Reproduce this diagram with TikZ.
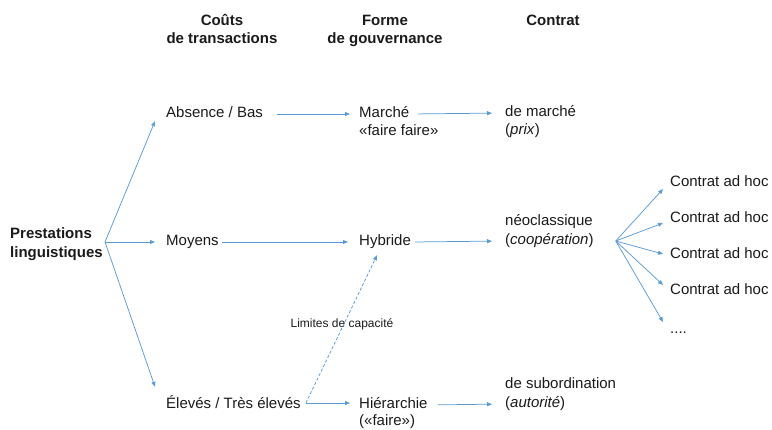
\documentclass[tikz,border=0pt]{standalone}
\usepackage{fontspec}
\setmainfont{Liberation Sans}
\usetikzlibrary{arrows.meta}
\definecolor{lnblue}{HTML}{5B9BD5}
\definecolor{txtc}{HTML}{1A1A1A}
\begin{document}
\begin{tikzpicture}[x=1pt,y=-1pt,
  txt/.style={inner sep=0pt, anchor=base west, font=\fontsize{15}{18}\selectfont, text=txtc, text height=10pt, text depth=4pt},
  boldtxt/.style={txt, font=\fontsize{15}{18}\selectfont\bfseries},
  hdr/.style={inner sep=0pt, anchor=base, font=\fontsize{15}{18}\selectfont\bfseries, text=txtc},
  small/.style={inner sep=0pt, anchor=base, font=\fontsize{12}{14}\selectfont, text=txtc},
  arr/.style={draw=lnblue, line width=0.75pt, -{Triangle[length=5pt,width=4pt]}}
]
\useasboundingbox (0,0) rectangle (772,429);

% headers
\node[hdr] (h1a) at (222,25) {Coûts};
\node[hdr] (h1b) at (222,43) {de transactions};
\node[hdr] (h2a) at (385,25) {Forme};
\node[hdr] (h2b) at (385,43) {de gouvernance};
\node[hdr] (h3) at (553,25) {Contrat};

% left
\node[boldtxt] (prest1) at (10,238) {Prestations};
\node[boldtxt] (prest2) at (10,257) {linguistiques};
\coordinate (pf) at (105,242);

% column 1
\node[txt] (abs) at (166,117) {Absence / Bas};
\node[txt] (moy) at (166,245) {Moyens};
\node[txt] (elv) at (166,408) {Élevés / Très élevés};

% column 2
\node[txt] (mar) at (359,117) {Marché};
\node[txt] (mar2) at (359,135) {«faire faire»};
\node[txt] (hyb) at (359,245) {Hybride};
\node[txt] (hie) at (359,408) {Hiérarchie};
\node[txt] (hie2) at (359,425) {(«faire»)};

% column 3
\node[txt] (dm) at (505,116) {de marché};
\node[txt] (dm2) at (505,134) {(\textit{prix})};
\node[txt] (neo) at (505,225) {néoclassique};
\node[txt] (neo2) at (505,244) {(\textit{coopération})};
\node[txt] (sub) at (505,388) {de subordination};
\node[txt] (sub2) at (505,407) {(\textit{autorité})};

% column 4
\node[txt] (ad1) at (670,186) {Contrat ad hoc};
\node[txt] (ad2) at (670,222) {Contrat ad hoc};
\node[txt] (ad3) at (670,258) {Contrat ad hoc};
\node[txt] (ad4) at (670,294) {Contrat ad hoc};
\node[txt] (dots) at (670,333) {....};

\node[small] (lim) at (342,327) {Limites de capacité};

% left fan
\draw[arr] (pf) -- ([xshift=-11pt]abs.south west);
\draw[arr, shorten >=11pt] (pf) -- (moy.west);
\draw[arr] (pf) -- ([xshift=-11pt,yshift=11pt]elv.north west);

% rows
\draw[arr, shorten <=14pt, shorten >=9pt] (abs.east) -- (mar.west);
\draw[arr, shorten <=9pt, shorten >=13pt] (mar.east) -- (dm.west);
\draw[arr, shorten <=3.5pt, shorten >=11pt] (moy.east) -- (hyb.west);
\draw[arr, shorten <=4pt, shorten >=13pt] (hyb.east) -- (neo2.west);
\coordinate (ej) at ([xshift=5pt,yshift=2pt]elv.east);
\draw[arr, shorten >=9pt] (ej) -- (ej -| hie.west);
\draw[arr, dash pattern=on 3pt off 2pt] (ej) -- ([xshift=-8pt,yshift=-6pt]hyb.south);
\draw[arr, shorten <=10pt, shorten >=13pt] (hie.east) -- (sub2.west);

% right fan
\coordinate (nf) at ([xshift=22pt]neo2.east);
\draw[arr] (nf) -- ([xshift=-7pt,yshift=-6pt]ad1.west);
\draw[arr] (nf) -- ([xshift=-7pt,yshift=-4pt]ad2.west);
\draw[arr] (nf) -- ([xshift=-7pt,yshift=1pt]ad3.west);
\draw[arr] (nf) -- ([xshift=-7pt,yshift=6pt]ad4.west);
\draw[arr] (nf) -- ([xshift=-7pt,yshift=8pt]dots.west);
\end{tikzpicture}
\end{document}
